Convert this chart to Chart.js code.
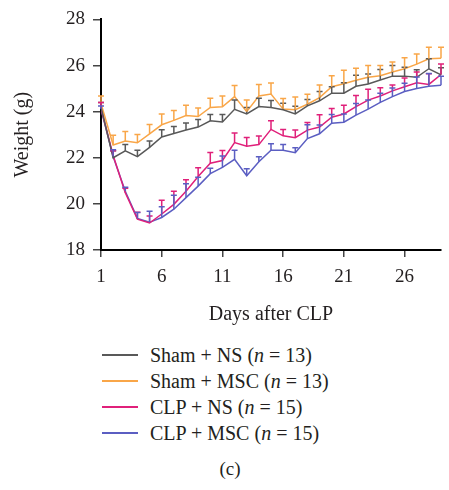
<!DOCTYPE html>
<html>
<head>
<meta charset="utf-8">
<script src="https://cdn.jsdelivr.net/npm/chart.js@4.4.1/dist/chart.umd.min.js"></script>
<style>
    body { margin: 0; background: #fff; }
    #wrap { position: relative; width: 449px; height: 490px; font-family: "Liberation Serif", "DejaVu Serif", serif; color: #231f20; }
    #myChart { position: absolute; left: 0; top: 0; }
    .legend { position: absolute; left: 102px; top: 342px; }
    .row { position: relative; height: 26px; line-height: 26px; font-size: 20px; white-space: nowrap; }
    .row span.swatch { position: absolute; left: 0; top: 12px; width: 36px; height: 1.5px; }
    .row span.txt { position: absolute; left: 48px; top: 0; }
    .caption { position: absolute; left: 0; width: 460px; text-align: center; top: 458px; font-size: 19px; }
</style>
</head>
<body>
<div id="wrap">
    <canvas id="myChart" width="449" height="330"></canvas>
    <div class="legend" id="legend"></div>
    <div class="caption">(c)</div>
</div>
<script>
document.addEventListener('DOMContentLoaded', function () {

    ///////////////////////////////////////////////////////////////////////////
    //////////////////////////  DATOS  ////////////////////////////////////////
    ///////////////////////////////////////////////////////////////////////////

    const days = [1, 2, 3, 4, 5, 6, 7, 8, 9, 10, 11, 12, 13, 14, 15, 16, 17, 18, 19, 20, 21, 22, 23, 24, 25, 26, 27, 28, 29];
    const xTicks = [1, 6, 11, 16, 21, 26];
    const yTicks = [18, 20, 22, 24, 26, 28];

    const shamNS = [24.2, 22.0, 22.3, 22.05, 22.45, 22.9, 23.05, 23.2, 23.33, 23.6, 23.55, 24.1, 23.9, 24.22, 24.18, 24.08, 23.9, 24.25, 24.47, 24.8, 24.8, 25.1, 25.2, 25.37, 25.54, 25.54, 25.49, 25.86, 25.6];
    const shamMSC = [24.35, 22.55, 22.73, 22.65, 23.04, 23.43, 23.62, 23.83, 23.79, 24.18, 24.21, 24.65, 24.0, 24.68, 24.76, 24.11, 24.08, 24.32, 24.61, 25.08, 25.21, 25.36, 25.49, 25.56, 25.72, 25.86, 26.06, 26.29, 26.32];
    const clpNS = [24.15, 22.1, 20.48, 19.34, 19.17, 19.56, 19.98, 20.55, 21.19, 21.76, 21.88, 22.66, 22.5, 22.57, 23.23, 22.95, 22.87, 23.2, 23.33, 23.76, 23.9, 24.22, 24.5, 24.68, 24.9, 25.08, 25.25, 25.18, 25.61];
    const clpMSC = [24.1, 22.05, 20.55, 19.37, 19.2, 19.41, 19.77, 20.27, 20.77, 21.31, 21.58, 21.93, 21.22, 21.83, 22.33, 22.33, 22.22, 22.83, 23.04, 23.5, 23.54, 23.85, 24.11, 24.4, 24.65, 24.87, 25.0, 25.1, 25.14];

    // error superior (SEM)
    const shamNSErr = [0.2, 0.3, 0.28, 0.28, 0.28, 0.31, 0.31, 0.31, 0.33, 0.28, 0.33, 0.4, 0.28, 0.36, 0.3, 0.28, 0.33, 0.28, 0.4, 0.28, 0.45, 0.48, 0.43, 0.46, 0.46, 0.38, 0.33, 0.43, 0.3];
    const shamMSCErr = [0.33, 0.43, 0.41, 0.36, 0.4, 0.47, 0.43, 0.45, 0.37, 0.4, 0.47, 0.48, 0.51, 0.5, 0.48, 0.46, 0.56, 0.43, 0.54, 0.48, 0.58, 0.52, 0.51, 0.44, 0.43, 0.48, 0.44, 0.5, 0.47];
    const clpNSErr = [0.25, 0.2, 0.2, 0.3, 0.3, 0.6, 0.57, 0.5, 0.38, 0.47, 0.43, 0.41, 0.38, 0.37, 0.38, 0.28, 0.33, 0.33, 0.53, 0.38, 0.38, 0.48, 0.47, 0.36, 0.26, 0.38, 0.47, 0.46, 0.46];
    const clpMSCErr = [0.15, 0.3, 0.17, 0.26, 0.48, 0.47, 0.6, 0.6, 0.38, 0.24, 0.5, 0.4, 0.3, 0.21, 0.28, 0.24, 0.21, 0.6, 0.38, 0.38, 0.36, 0.5, 0.4, 0.4, 0.38, 0.36, 0.5, 0.55, 0.4];

    const groups = [
        { label: 'Sham + NS', n: 13, values: shamNS, errors: shamNSErr, color: '#595959' },
        { label: 'Sham + MSC', n: 13, values: shamMSC, errors: shamMSCErr, color: '#F9A648' },
        { label: 'CLP + NS', n: 15, values: clpNS, errors: clpNSErr, color: '#E0207A' },
        { label: 'CLP + MSC', n: 15, values: clpMSC, errors: clpMSCErr, color: '#5B5EC2' },
    ];

    ///////////////////////////////////////////////////////////////////////////
    //////////////////////////  BARRAS DE ERROR  //////////////////////////////
    ///////////////////////////////////////////////////////////////////////////

    const errorBars = {
        id: 'errorBars',
        afterDatasetsDraw(chart) {
            const ctx = chart.ctx;
            const y = chart.scales.y;
            chart.data.datasets.forEach(function (ds, i) {
                const meta = chart.getDatasetMeta(i);
                ctx.save();
                ctx.strokeStyle = ds.borderColor;
                ctx.lineWidth = 1.5;
                meta.data.forEach(function (pt, j) {
                    const top = y.getPixelForValue(ds.data[j].y + ds.errors[j]);
                    ctx.beginPath();
                    ctx.moveTo(pt.x, pt.y);
                    ctx.lineTo(pt.x, top);
                    ctx.moveTo(pt.x - 3, top);
                    ctx.lineTo(pt.x + 3, top);
                    ctx.stroke();
                });
                ctx.restore();
            });
        }
    };

    ///////////////////////////////////////////////////////////////////////////
    //////////////////////////  GRÁFICO  //////////////////////////////////////
    ///////////////////////////////////////////////////////////////////////////

    const serif = '"Liberation Serif", "DejaVu Serif", serif';
    const ink = '#231f20';

    const chartConfig = {
        type: 'line',
        data: {
            datasets: groups.map(function (g) {
                return {
                    label: g.label,
                    data: days.map(function (d, k) { return { x: d, y: g.values[k] }; }),
                    errors: g.errors,
                    borderColor: g.color,
                    borderWidth: 1.5,
                    pointRadius: 0,
                    tension: 0,
                    fill: false,
                };
            }),
        },
        options: {
            responsive: false,
            animation: false,
            layout: { padding: { top: 16, right: 8, bottom: 0, left: 0 } },
            plugins: { legend: { display: false }, tooltip: { enabled: false } },
            scales: {
                x: {
                    type: 'linear',
                    min: 1,
                    max: 29,
                    afterBuildTicks: function (scale) { scale.ticks = xTicks.map(function (v) { return { value: v }; }); },
                    afterFit: function (scale) { scale.height = 80; },
                    grid: { drawOnChartArea: false, drawTicks: true, tickLength: 7, color: '#444', lineWidth: 1.5 },
                    border: { display: true, color: '#000', width: 2 },
                    ticks: { color: ink, font: { family: serif, size: 19 }, padding: 9, maxRotation: 0 },
                    title: { display: true, text: 'Days after CLP', color: ink, font: { family: serif, size: 20 }, padding: { top: 0, bottom: 3 } },
                },
                y: {
                    min: 18,
                    max: 28,
                    afterBuildTicks: function (scale) { scale.ticks = yTicks.map(function (v) { return { value: v }; }); },
                    afterFit: function (scale) { scale.width = 101; },
                    grid: { drawOnChartArea: false, drawTicks: true, tickLength: 8, color: '#444', lineWidth: 1.5 },
                    border: { display: true, color: '#000', width: 2 },
                    ticks: { color: ink, font: { family: serif, size: 19 }, padding: 8 },
                    title: { display: true, text: 'Weight (g)', color: ink, font: { family: serif, size: 20 }, padding: { top: 11, bottom: 0 } },
                },
            },
        },
        plugins: [errorBars],
    };

    const myChart = new Chart(document.getElementById('myChart'), chartConfig);

    ///////////////////////////////////////////////////////////////////////////
    //////////////////////////  LEYENDA  //////////////////////////////////////
    ///////////////////////////////////////////////////////////////////////////

    const legend = document.getElementById('legend');
    groups.forEach(function (g) {
        const row = document.createElement('div');
        row.className = 'row';
        row.innerHTML = '<span class="swatch" style="background:' + g.color + '"></span>' +
            '<span class="txt">' + g.label + ' (<i>n</i> = ' + g.n + ')</span>';
        legend.appendChild(row);
    });

});
</script>
</body>
</html>
